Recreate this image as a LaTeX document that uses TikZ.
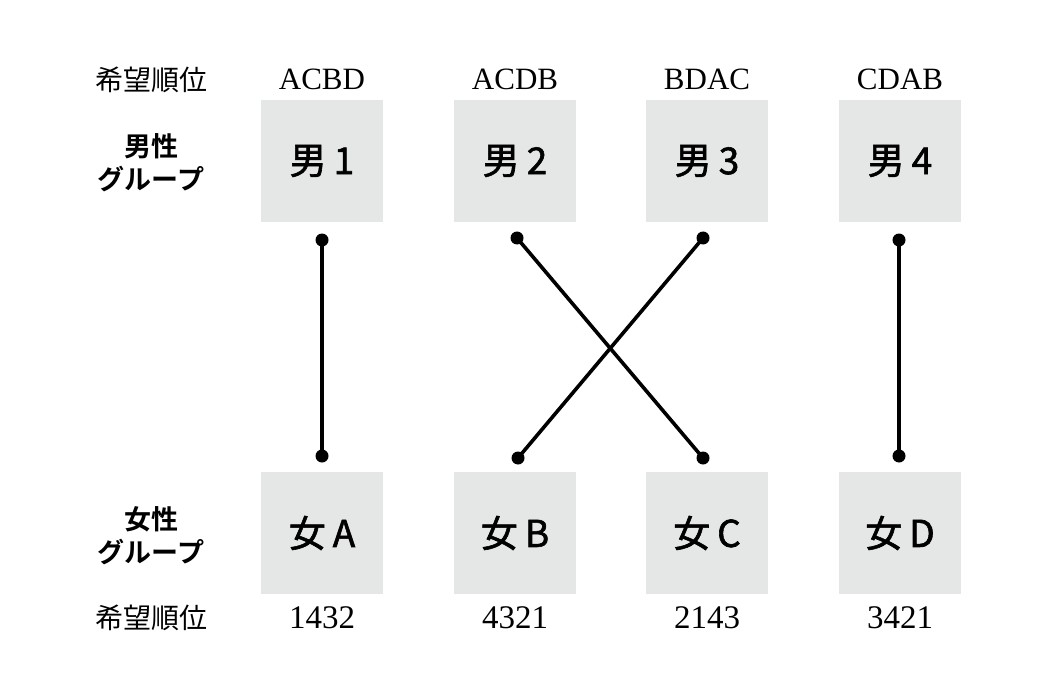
\documentclass[tikz,border=0pt]{standalone}
\usepackage{fontspec}
\setmainfont{Liberation Serif}
\newfontfamily\jp{Noto Sans CJK JP}
\newfontfamily\jpm[FakeBold=1.6]{Noto Sans CJK JP}
\newfontfamily\jpb{Noto Sans CJK JP Bold}
\definecolor{boxgray}{HTML}{E5E6E6}
\newcommand\gapsp{\hspace{7pt}}
\tikzset{
  person/.style={rectangle, fill=boxgray, minimum width=122pt, minimum height=122pt, inner sep=0pt,
    font=\jpm\fontsize{37}{42}\selectfont},
  pref/.style={inner sep=0pt, font=\fontsize{31}{36}\selectfont},
  num/.style={inner sep=0pt, font=\fontsize{33}{36}\selectfont},
  grouplabel/.style={inner sep=0pt, align=center, font=\jpb\fontsize{27}{33}\selectfont},
  rowlabel/.style={inner sep=0pt, font=\jp\fontsize{28}{32}\selectfont},
  conn/.style={line width=3.6pt, line cap=round},
  dotmark/.style={fill=black}
}
\begin{document}
\begin{tikzpicture}[x=1pt,y=-1pt]
\useasboundingbox (0,0) rectangle (1040,676);
% top row
\node[rowlabel] (tl) at (151,80) {希望順位};
\node[grouplabel] (mg) at (151,163) {男性\\グループ};
\node[person] (m1) at (322,161) {男\gapsp 1};
\node[person] (m2) at (515,161) {男\gapsp 2};
\node[person] (m3) at (707,161) {男\gapsp 3};
\node[person] (m4) at (900,161) {男\gapsp 4};
\node[pref] (p1) at (322,79) {ACBD};
\node[pref] (p2) at (515,79) {ACDB};
\node[pref] (p3) at (707,79) {BDAC};
\node[pref] (p4) at (900,79) {CDAB};
% bottom row
\node[grouplabel] (wg) at (151,536) {女性\\グループ};
\node[person] (wA) at (322,533) {女\gapsp A};
\node[person] (wB) at (515,533) {女\gapsp B};
\node[person] (wC) at (707,533) {女\gapsp C};
\node[person] (wD) at (900,533) {女\gapsp D};
\node[rowlabel] (bl) at (151,618) {希望順位};
\node[num] (q1) at (322,618) {1432};
\node[num] (q2) at (515,618) {4321};
\node[num] (q3) at (707,618) {2143};
\node[num] (q4) at (900,618) {3421};
% connector ends
\coordinate (m1d) at (322,240);
\coordinate (m2d) at (517,238);
\coordinate (m3d) at (703,238);
\coordinate (m4d) at (899,240);
\coordinate (wAd) at (322,456);
\coordinate (wBd) at (518,458);
\coordinate (wCd) at (703,458);
\coordinate (wDd) at (899,456);
\draw[conn] (m1d) -- (wAd);
\draw[conn] (m2d) -- (wCd);
\draw[conn] (m3d) -- (wBd);
\draw[conn] (m4d) -- (wDd);
\foreach \p in {m1d,m2d,m3d,m4d,wAd,wBd,wCd,wDd}
  \fill[dotmark] (\p) circle (6.5pt);
\end{tikzpicture}
\end{document}
